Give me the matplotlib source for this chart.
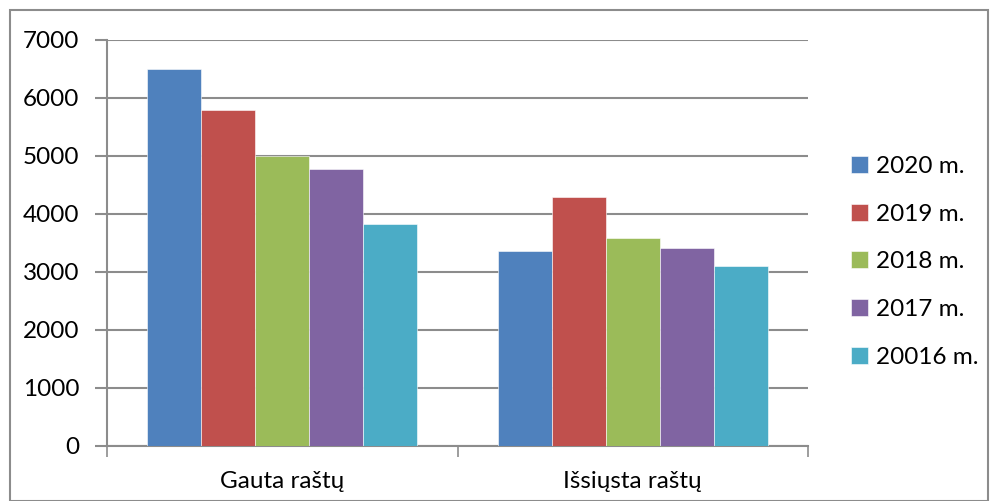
import numpy as np
import matplotlib.pyplot as plt
from matplotlib.patches import Rectangle

plt.rcParams['font.family'] = ['Lato', 'DejaVu Sans']

categories = ['Gauta raštų', 'Išsiųsta raštų']
series_labels = ['2020 m.', '2019 m.', '2018 m.', '2017 m.', '20016 m.']
values = {
    '2020 m.': [6500, 3370],
    '2019 m.': [5800, 4300],
    '2018 m.': [5000, 3580],
    '2017 m.': [4780, 3420],
    '20016 m.': [3820, 3100],
}
colors = ['#4F81BD', '#C0504D', '#9BBB59', '#8064A2', '#4BACC6']
yticks = [0, 1000, 2000, 3000, 4000, 5000, 6000, 7000]
fs = 17.5

fig = plt.figure(figsize=(9.9, 5.01), dpi=100)
ax = fig.add_axes([107 / 990, 1 - 446 / 501, (808 - 107) / 990, (446 - 40) / 501])

n = len(series_labels)
width = 1 / (n + 1.5)
x = np.arange(len(categories))
for i, (lab, col) in enumerate(zip(series_labels, colors)):
    ax.bar(x + (i - (n - 1) / 2) * width, values[lab], width=width, color=col,
           label=lab, zorder=3, edgecolor='white', linewidth=0.4)

ax.set_xlim(-0.5, len(categories) - 0.5)
ax.set_ylim(0, 7000)
ax.set_yticks(yticks)
ax.set_yticklabels([str(t) for t in yticks], fontsize=fs)
ax.yaxis.grid(True, color='#8c8c8c', linewidth=1.5, zorder=0)

# category ticks sit between groups, labels centred under groups
ax.set_xticks([-0.5, 0.5, 1.5])
ax.set_xticklabels([])
ax.set_xticks(x, minor=True)
ax.set_xticklabels(categories, minor=True, fontsize=fs)
ax.tick_params(axis='x', which='minor', length=0, pad=18)
ax.tick_params(axis='x', which='major', length=8, width=1.2, color='#8c8c8c')
ax.tick_params(axis='y', length=9, width=1.5, color='#8c8c8c', pad=11)

for s in ['top', 'right']:
    ax.spines[s].set_visible(False)
for s in ['left', 'bottom']:
    ax.spines[s].set_color('#8c8c8c')
    ax.spines[s].set_linewidth(1.5)

ax.legend(loc='upper left', bbox_to_anchor=(829 / 990, 1 - 134 / 501),
          bbox_transform=fig.transFigure, frameon=False, fontsize=fs,
          handlelength=0.7, handleheight=0.7, handletextpad=0.35,
          labelspacing=1.1)

fig.patches.append(Rectangle((10 / 990, 0.0), 978 / 990, 1 - 10 / 501,
                             transform=fig.transFigure, fill=False,
                             edgecolor='#8c8c8c', linewidth=1.5))

fig.savefig('out.png', dpi=100)
